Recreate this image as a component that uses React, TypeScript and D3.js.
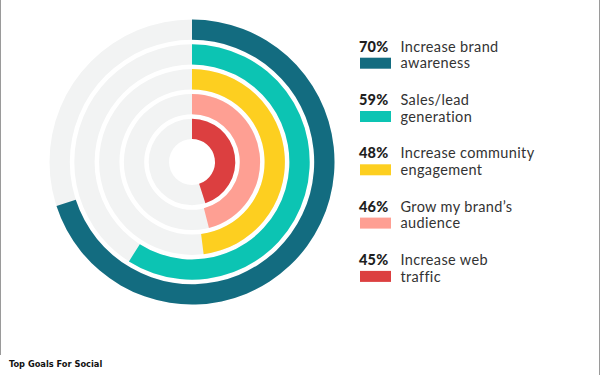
import React from "react";
import * as d3 from "d3";

const categories = [
  ["Increase brand", "awareness"],
  ["Sales/lead", "generation"],
  ["Increase community", "engagement"],
  ["Grow my brand\u2019s", "audience"],
  ["Increase web", "traffic"],
];
const values = [70, 59, 48, 46, 45];
const colors = ["#136c80", "#0cc4b3", "#fdcf20", "#fe9f93", "#dc3f40"];
const title = "Top Goals For Social";

const W = 600;
const H = 375;

export default function App() {
  const cx = 192;
  const cy = 162;
  const angle = d3.scaleLinear().domain([0, 100]).range([0, 2 * Math.PI]);
  const innerBase = 23;
  const step = 24.8;
  const thick = 20.3;
  const arc = d3.arc<any>();
  const n = values.length;

  return (
    <svg
      width={W}
      height={H}
      style={{ position: "absolute", left: 0, top: 0, background: "#fff" }}
    >
      <line x1={0.5} y1={0} x2={0.5} y2={355} stroke="#9a9a9a" strokeWidth={1} />
      <line x1={599.5} y1={0} x2={599.5} y2={375} stroke="#9a9a9a" strokeWidth={1} />
      <g transform={`translate(${cx},${cy})`}>
        {values.map((v, i) => {
          const ringIdx = n - 1 - i; // outermost = first
          const r0 = innerBase + ringIdx * step;
          const r1 = r0 + thick;
          return (
            <g key={i}>
              <path
                d={arc({ innerRadius: r0, outerRadius: r1, startAngle: 0, endAngle: 2 * Math.PI }) as string}
                fill="#f2f3f3"
              />
              <path
                d={arc({ innerRadius: r0, outerRadius: r1, startAngle: 0, endAngle: angle(v) }) as string}
                fill={colors[i]}
              />
            </g>
          );
        })}
      </g>
      <g fontFamily="Lato, 'Open Sans', sans-serif">
        {values.map((v, i) => {
          const y = 51.7 + i * 53.3;
          return (
            <g key={i}>
              <text x={359} y={y} fontSize={14.5} fontWeight={900} fill="#1e1e1e" letterSpacing={0.2}>
                {`${v}%`}
              </text>
              <rect x={360} y={y + 6} width={31} height={11} fill={colors[i]} />
              <text x={400.5} y={y} fontSize={14.5} fill="#333" letterSpacing={0.35}>
                {categories[i][0]}
              </text>
              <text x={400.5} y={y + 16.7} fontSize={14.5} fill="#333" letterSpacing={0.35}>
                {categories[i][1]}
              </text>
            </g>
          );
        })}
      </g>
      <text
        x={9}
        y={367}
        fontFamily="'DejaVu Sans Condensed', 'Liberation Sans', sans-serif"
        fontWeight="bold"
        fontSize={9.2}
        fill="#111"
      >
        {title}
      </text>
    </svg>
  );
}
